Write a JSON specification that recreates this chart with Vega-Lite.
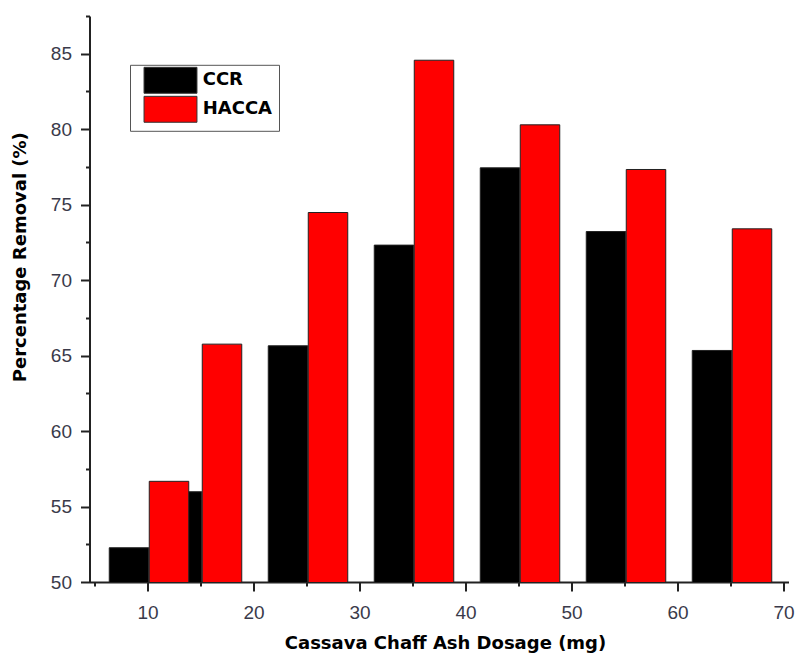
{
  "$schema": "https://vega.github.io/schema/vega-lite/v6.json",
  "width": 699,
  "height": 566,
  "autosize": "none",
  "padding": {"left": 89.5, "top": 16, "right": 11.5, "bottom": 72},
  "background": "white",
  "config": {
    "view": {"stroke": null},
    "axis": {
      "grid": false,
      "domainColor": "#222222",
      "domainWidth": 2,
      "tickColor": "#222222",
      "tickWidth": 2,
      "labelFont": "Liberation Sans",
      "labelFontSize": 19,
      "labelColor": "#3a3a4a",
      "titleFont": "DejaVu Sans",
      "titleFontWeight": "bold",
      "titleFontSize": 18,
      "titleColor": "#000000"
    }
  },
  "data": {
    "values": [
      {"dosage": 10, "series": "CCR", "removal": 52.27},
      {"dosage": 15, "series": "CCR", "removal": 55.98},
      {"dosage": 25, "series": "CCR", "removal": 65.65},
      {"dosage": 35, "series": "CCR", "removal": 72.32},
      {"dosage": 45, "series": "CCR", "removal": 77.44},
      {"dosage": 55, "series": "CCR", "removal": 73.22},
      {"dosage": 65, "series": "CCR", "removal": 65.34},
      {"dosage": 10, "series": "HACCA", "removal": 56.67},
      {"dosage": 15, "series": "HACCA", "removal": 65.76},
      {"dosage": 25, "series": "HACCA", "removal": 74.48},
      {"dosage": 35, "series": "HACCA", "removal": 84.57},
      {"dosage": 45, "series": "HACCA", "removal": 80.29},
      {"dosage": 55, "series": "HACCA", "removal": 77.33},
      {"dosage": 65, "series": "HACCA", "removal": 73.4}
    ]
  },
  "encoding": {
    "x": {
      "field": "dosage",
      "type": "quantitative",
      "scale": {"domain": [5, 70], "nice": false, "zero": false},
      "axis": {
        "title": "Cassava Chaff Ash Dosage (mg)",
        "values": [5, 10, 15, 20, 25, 30, 35, 40, 45, 50, 55, 60, 65, 70],
        "labelExpr": "datum.value % 10 === 0 ? datum.label : ''",
        "tickSize": {"condition": {"test": "datum.value % 10 === 0", "value": 9}, "value": 4},
        "labelPadding": 12,
        "labelFlush": false,
        "labelOverlap": false,
        "titleBaseline": "alphabetic",
        "titleAlign": "center",
        "titleX": 355.5,
        "titleY": 66
      }
    },
    "y": {
      "field": "removal",
      "type": "quantitative",
      "scale": {"domain": [50, 87.5], "nice": false, "zero": false},
      "axis": {
        "title": "Percentage Removal (%)",
        "values": [50, 52.5, 55, 57.5, 60, 62.5, 65, 67.5, 70, 72.5, 75, 77.5, 80, 82.5, 85, 87.5],
        "labelExpr": "datum.value % 5 === 0 ? datum.label : ''",
        "tickSize": {"condition": {"test": "datum.value % 5 === 0", "value": 9}, "value": 4},
        "labelPadding": 9,
        "labelFlush": false,
        "labelOverlap": false,
        "titleAngle": -90,
        "titleBaseline": "alphabetic",
        "titleAlign": "center",
        "titleX": -64.5,
        "titleY": 240.7
      }
    },
    "color": {
      "field": "series",
      "type": "nominal",
      "scale": {"domain": ["CCR", "HACCA"], "range": ["#000000", "#ff0000"]},
      "legend": {
        "title": null,
        "orient": "none",
        "legendX": 40.5,
        "legendY": 48.8,
        "padding": 6,
        "rowPadding": -2,
        "strokeColor": "#555555",
        "fillColor": "#ffffff",
        "symbolType": "M-2.94,-1.44H2.94V1.44H-2.94Z",
        "symbolSize": 324,
        "symbolOffset": 25,
        "symbolStrokeColor": "#333333",
        "symbolStrokeWidth": 1,
        "symbolOpacity": 1,
        "labelFont": "DejaVu Sans",
        "labelFontWeight": "bold",
        "labelFontSize": 18,
        "labelColor": "#000000",
        "labelOffset": 22.7
      }
    }
  },
  "layer": [
    {
      "transform": [{"filter": "datum.series === 'CCR'"}],
      "mark": {"type": "bar", "width": 39.5, "xOffset": -18.5, "stroke": "#222222", "strokeWidth": 1, "opacity": 1, "clip": true}
    },
    {
      "transform": [{"filter": "datum.series === 'HACCA'"}],
      "mark": {"type": "bar", "width": 39.5, "xOffset": 21.5, "stroke": "#222222", "strokeWidth": 1, "opacity": 1, "clip": true}
    }
  ]
}
